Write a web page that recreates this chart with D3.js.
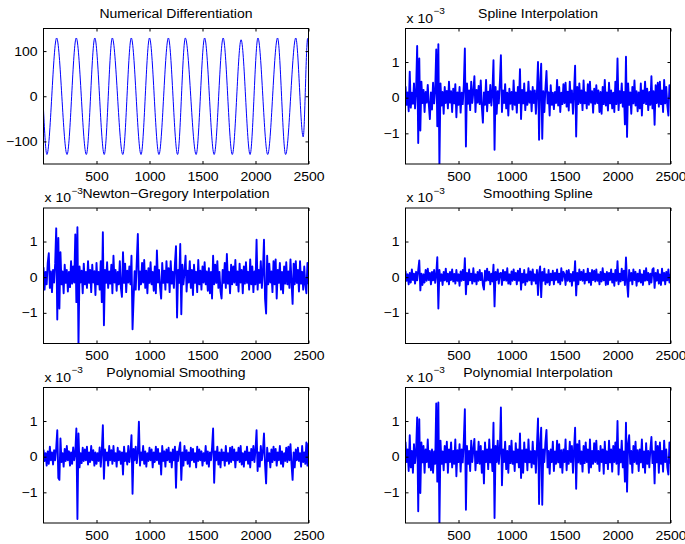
<!DOCTYPE html>
<html><head><meta charset="utf-8">
<script src="https://cdn.jsdelivr.net/npm/d3@7"></script>
<style>
html,body{margin:0;padding:0;background:#fff;}
svg{display:block;font-family:"Liberation Sans",Arial,Helvetica,sans-serif;}
</style></head>
<body><svg id="fig" width="685" height="544"></svg>
<script>
// ---------- data ----------
const titles = ["Numerical Differentiation","Spline Interpolation","Newton\u2212Gregory Interpolation",
                "Smoothing Spline","Polynomial Smoothing","Polynomial Interpolation"];
const xTicks = [500,1000,1500,2000,2500];
const sineTicks = [-100,0,100];
const errTicks = [-1,0,1];          // in units of 1e-3
const errStep = 10;                 // samples between stored error values

// panel 1: extrema of the derivative curve (sample index, value)
const sineX = [0,32,124,222,309,404,484,573,649,748,828,920,1000,1089,1178,1265,1338,1440,1520,1610,1695,1781,1864,1949,2023,2115,2208,2284,2380,2450,2492,2500];
const sineY = [-30,-129,129,-129,129,-129,129,-129,129,-129,129,-129,129,-129,129,-129,129,-129,129,-129,129,-129,125,-129,129,-129,129,-129,129,-90,128,105];

// error curves (x 1e-3), one value every 10 samples
const splineErr = [
0.32,-0.2,0.15,-0.38,0.73,-0.28,0.14,-0.17,0.4,-0.3,
0.18,1.45,-1.27,1.1,-0.92,0.45,-0.15,0.22,-0.4,0.16,
-0.14,0.36,-0.2,-0.6,0.15,-0.33,0.42,-0.16,0.2,1.35,
-0.8,1.5,-1.95,0.4,-0.22,0.16,-0.45,0.3,-0.15,0.19,
-0.3,0.45,-0.14,0.18,-0.4,0.25,-0.16,0.38,-0.55,0.15,
-0.2,0.3,-0.42,0.14,-0.18,0.35,1.38,-1.37,0.4,-0.17,
0.2,-0.35,0.45,-0.15,0.16,0.6,-0.4,0.22,-0.14,0.33,
-0.18,0.48,-0.25,-0.7,0.15,-0.2,0.5,-0.38,0.17,-0.15,
0.36,-0.22,0.15,1.05,-1.46,0.3,-0.45,0.18,-0.16,0.42,
1.19,-0.4,0.2,-0.15,0.38,-0.3,0.14,-0.5,0.25,-0.17,
0.16,-0.33,0.48,-0.2,0.15,-0.42,0.3,-0.15,0.8,-0.6,
0.22,-0.16,0.4,-0.35,0.15,-0.2,0.45,-0.14,0.18,-0.38,
0.3,-0.15,0.2,-0.45,0.16,1.0,-1.18,0.4,0.95,-1.15,
0.18,-0.4,0.25,0.75,-0.16,0.15,-0.5,0.35,-0.2,0.14,
-0.32,0.16,-0.15,0.5,-0.22,0.3,-0.4,0.14,-0.18,0.38,
-0.15,0.42,-0.25,0.17,-0.36,0.45,-0.14,0.2,-0.45,0.16,
0.9,-1.09,0.3,-0.18,0.4,-0.15,0.2,-0.35,0.48,-0.16,
0.15,-0.3,0.38,-0.2,0.45,-0.14,0.18,-0.42,0.25,-0.17,
0.35,-0.15,0.2,-0.4,0.16,-0.45,0.3,-0.18,0.5,-0.22,
0.15,-0.36,0.42,-0.16,0.2,-0.3,0.14,-0.4,0.45,-0.18,
1.1,-0.35,0.18,-0.15,0.4,-0.25,0.16,-0.75,1.15,-1.1,
0.4,-0.2,0.15,-0.45,0.3,-0.16,0.48,-0.22,0.18,-0.38,
0.15,-0.3,0.4,-0.5,0.2,-0.15,0.45,-0.18,0.25,-0.35,
0.16,-0.2,0.6,-0.3,0.18,-0.76,0.35,-0.15,0.42,-0.25,
0.45,-0.18,0.2,-0.4,0.5,-0.16,0.3,-0.22,-0.5,0.35,
0.2];
const newtonErr = [
0.28,-0.35,0.15,-0.2,0.4,0.67,-0.3,0.16,-0.42,0.2,
-0.15,0.38,1.37,-1.19,1.1,-0.88,0.7,-0.2,0.16,-0.45,
0.35,-0.16,0.2,-0.4,0.15,-0.28,0.45,-0.18,0.3,-0.15,
1.2,-0.7,1.4,-1.95,0.3,-0.15,0.18,-0.45,0.38,-0.2,
0.15,-0.3,0.45,-0.16,0.2,-0.42,0.35,-0.15,0.17,-0.5,
0.4,-0.2,0.15,-0.35,0.45,-0.7,1.26,-1.35,0.2,-0.16,
0.42,-0.3,0.16,-0.18,0.35,-0.45,0.6,-0.15,0.2,-0.38,
0.15,-0.2,0.45,-0.3,-0.55,0.7,-0.16,0.38,-0.42,0.18,
-0.15,0.3,-0.2,0.6,-1.46,-0.6,0.17,-0.35,0.45,1.21,
-0.35,0.16,-0.2,0.4,-0.15,0.48,-0.3,0.18,-0.45,0.25,
-0.16,0.42,-0.2,0.15,-0.38,0.3,-0.45,0.75,-0.15,0.2,
-0.3,-0.6,0.4,-0.16,0.18,-0.35,0.45,-0.15,0.25,-0.42,
0.45,-0.18,0.15,-0.3,0.38,0.87,-1.13,0.2,-0.16,0.93,
-1.04,0.35,-0.2,0.15,0.6,-0.4,0.18,-0.15,0.45,-0.3,
0.2,-0.5,0.35,-0.16,0.15,-0.42,0.48,-0.2,0.18,-0.35,
0.3,-0.15,0.42,-0.2,0.16,-0.38,0.25,-0.45,0.15,-0.6,
0.6,-0.2,0.35,-0.16,0.45,-0.3,0.15,-0.4,-0.6,0.2,
-0.16,0.4,-0.3,0.65,-0.18,0.15,-0.45,0.35,-0.2,0.3,
-0.15,0.48,-0.22,0.16,-0.4,0.38,-0.15,0.2,-0.45,0.3,
-0.18,0.42,-0.16,0.15,-0.35,0.5,-0.2,0.3,-0.42,0.16,
-0.2,1.05,-0.35,0.2,-0.16,0.45,-0.3,0.15,1.05,-0.6,
-1.02,0.6,-0.2,0.38,-0.15,0.16,-0.42,0.45,-0.2,0.5,
-0.6,0.2,-0.16,0.4,-0.35,0.15,-0.45,0.3,-0.18,0.42,
-0.2,0.16,-0.3,0.5,-0.15,-0.75,0.38,-0.2,0.45,-0.16,
0.2,-0.4,0.45,-0.18,0.15,-0.35,0.3,-0.2,-0.45,0.4,
-0.2];
const smoothSplineErr = [
0.18,-0.1,0.08,-0.2,0.12,-0.15,0.22,-0.08,0.1,-0.18,
0.15,-0.09,0.2,0.47,-0.37,0.1,-0.22,0.08,-0.15,0.2,
-0.1,0.24,-0.08,0.12,-0.2,0.15,-0.09,0.2,-0.16,0.08,
0.56,-0.88,0.2,-0.1,0.08,-0.22,0.15,-0.09,0.24,-0.12,
0.1,-0.2,0.15,-0.08,0.22,-0.12,0.09,-0.18,0.2,-0.1,
0.08,-0.24,0.16,-0.1,0.2,-0.08,0.53,-0.48,0.12,-0.2,
0.22,-0.09,0.1,-0.18,0.25,-0.12,0.08,-0.2,0.15,-0.1,
0.2,-0.08,0.12,-0.22,-0.35,0.18,-0.1,0.24,-0.09,0.15,
-0.2,0.1,-0.12,0.35,-0.82,0.15,-0.08,0.22,-0.18,0.1,
0.12,-0.22,0.2,-0.09,0.15,-0.1,0.25,-0.18,0.08,-0.2,
0.16,-0.1,0.22,-0.08,0.12,-0.2,0.18,-0.1,0.24,-0.35,
0.1,-0.15,0.2,-0.22,0.08,-0.12,0.25,-0.09,0.16,-0.2,
0.22,-0.1,0.08,-0.18,0.2,-0.5,0.12,0.3,-0.56,0.15,
-0.1,0.24,-0.2,0.08,-0.15,0.2,-0.22,0.1,-0.09,0.18,
-0.2,0.12,-0.08,0.22,-0.15,0.1,-0.2,0.25,-0.1,0.15,
0.08,-0.22,0.18,-0.1,0.2,-0.12,0.09,-0.24,0.15,-0.1,
0.45,-0.51,0.12,-0.2,0.22,-0.08,0.15,-0.1,0.2,-0.18,
0.1,-0.09,0.24,-0.15,0.12,-0.22,0.2,-0.08,0.18,-0.12,
0.22,-0.1,0.08,-0.2,0.15,-0.12,0.25,-0.09,0.1,-0.22,
0.15,-0.2,0.12,-0.08,0.22,-0.15,0.1,-0.24,0.2,-0.1,
0.45,-0.2,0.1,-0.12,0.24,-0.09,0.18,-0.22,0.55,-0.15,
-0.55,0.2,-0.1,0.12,-0.2,0.22,-0.08,0.15,-0.24,0.1,
-0.12,0.2,-0.15,0.08,-0.22,0.18,-0.1,0.25,-0.09,0.12,
-0.2,0.1,-0.15,0.22,0.25,-0.3,0.12,-0.1,0.2,-0.18,
0.08,-0.22,0.24,-0.1,0.12,-0.2,0.15,-0.09,0.22,-0.15,
0.1];
const polySmoothErr = [
0.2,-0.12,0.1,-0.25,0.15,-0.2,0.28,-0.1,0.12,-0.22,
0.18,-0.1,0.25,0.74,-0.6,-0.65,0.51,-0.15,0.1,-0.28,
0.22,-0.12,0.3,-0.1,0.15,-0.25,0.12,-0.2,0.26,-0.1,
0.12,0.79,-1.75,0.65,-0.3,0.1,-0.18,0.25,-0.12,0.2,
-0.1,0.28,-0.22,0.12,-0.15,0.3,-0.1,0.18,-0.25,0.12,
-0.2,0.1,-0.12,0.26,-0.28,0.15,0.88,-0.62,0.2,-0.1,
0.12,-0.25,0.3,-0.1,0.18,-0.2,0.3,-0.12,0.1,-0.28,
0.25,-0.1,0.15,-0.2,0.12,-0.5,0.28,-0.12,0.1,-0.22,
0.3,-0.15,0.1,0.6,-1.04,0.22,-0.1,0.28,-0.18,0.12,
0.98,-0.25,0.12,-0.1,0.3,-0.2,0.15,-0.28,0.1,-0.12,
0.25,-0.1,0.2,-0.3,0.12,-0.15,0.28,-0.1,0.22,-0.2,
0.1,-0.5,0.3,-0.12,0.15,-0.28,0.2,-0.1,0.25,-0.15,
0.12,-0.3,0.2,-0.1,0.28,-0.87,0.15,-0.12,0.22,0.4,
-0.65,0.12,-0.25,0.3,-0.1,0.18,-0.2,0.12,-0.28,0.25,
-0.1,0.22,-0.15,0.1,-0.3,0.28,-0.12,0.2,-0.1,0.15,
-0.25,0.1,-0.12,0.3,-0.2,0.15,-0.28,0.12,-0.1,0.25,
0.79,-0.73,0.15,-0.1,0.28,-0.22,0.12,-0.3,0.2,-0.1,
0.12,-0.25,0.3,-0.12,0.1,-0.2,0.25,-0.15,0.28,-0.1,
0.2,-0.3,0.12,-0.1,0.25,-0.15,0.3,-0.22,0.1,-0.28,
0.15,-0.1,0.28,-0.2,0.12,-0.3,0.22,-0.1,0.3,-0.15,
0.2,0.74,-0.4,0.12,-0.28,0.3,-0.1,0.15,0.65,-0.22,
-0.75,0.25,-0.12,0.1,-0.3,0.2,-0.15,0.28,-0.1,0.22,
-0.25,0.12,-0.1,0.3,-0.2,0.15,-0.28,0.1,-0.12,0.25,
-0.15,0.28,-0.1,0.35,-0.22,-0.65,0.12,-0.3,0.2,-0.1,
0.25,-0.12,0.1,-0.28,0.3,-0.15,0.12,-0.2,0.4,-0.25,
0.38];
const polyInterpErr = [
0.42,-0.15,0.2,-0.4,0.6,-0.3,0.16,-0.45,0.35,-0.18,
0.15,1.1,-1.53,1.05,-1.02,0.4,-0.16,0.3,-0.45,0.2,
-0.15,0.48,-0.3,0.16,-0.38,0.2,-0.45,0.15,-0.2,1.49,
-0.7,1.52,-1.95,0.45,-0.2,0.15,-0.38,0.3,-0.16,0.42,
-0.45,0.2,-0.15,0.4,-0.3,0.16,-0.2,0.48,-0.55,0.18,
-0.15,0.35,-0.42,0.2,-0.16,0.45,1.33,-1.49,0.3,-0.2,
0.16,-0.4,0.45,-0.15,0.2,0.5,-0.38,0.15,-0.18,0.42,
-0.2,0.3,-0.45,0.16,-0.75,0.4,-0.15,0.2,-0.35,0.48,
-0.16,0.2,-0.4,0.95,-1.72,0.3,-0.15,0.45,-0.2,0.16,
1.38,-0.8,0.2,-0.15,0.42,-0.35,0.16,-0.45,0.3,-0.18,
0.45,-0.2,0.15,-0.4,0.38,-0.16,0.2,-0.3,0.65,-0.6,
0.18,-0.45,0.4,-0.15,0.2,-0.38,0.48,-0.16,0.15,-0.3,
0.42,-0.2,0.16,-0.45,0.3,1.07,-1.33,0.35,0.81,-1.35,
0.2,-0.15,0.4,0.75,-0.3,0.16,-0.48,0.2,-0.15,0.42,
-0.4,0.15,-0.2,0.45,-0.16,0.35,-0.3,0.18,-0.45,0.2,
-0.15,0.48,-0.38,0.16,-0.2,0.42,-0.15,0.3,-0.45,0.2,
0.81,-0.9,0.35,-0.16,0.45,-0.2,0.15,-0.42,0.3,-0.18,
0.4,-0.15,0.2,-0.45,0.48,-0.3,0.16,-0.2,0.38,-0.15,
0.45,-0.2,0.16,-0.4,0.3,-0.15,0.2,-0.48,0.42,-0.18,
0.15,-0.35,0.45,-0.16,0.2,-0.42,0.3,-0.15,0.4,-0.2,
1.0,-0.5,0.2,-0.16,0.45,-0.3,0.15,-0.7,0.95,-0.98,
0.35,0.6,-0.2,0.16,-0.45,0.3,-0.15,0.42,-0.2,0.18,
-0.4,0.2,-0.16,0.48,-0.3,0.15,-0.45,0.38,-0.2,0.16,
-0.3,0.2,0.55,-0.18,0.15,-0.75,0.42,-0.16,0.3,-0.45,
0.4,-0.2,0.16,-0.42,0.45,-0.15,0.2,-0.3,-0.5,0.4,
-0.2];

// ---------- layout ----------
const colLeft = [43.5, 405.5], rowTop = [28.5, 208, 387.5];
const PW = 265, PH = 135.5;
const fs = 12.5, stretch = 1.12;

const svg = d3.select("#fig");
svg.append("rect").attr("width",685).attr("height",544).attr("fill","#fff");

const errSeries = [splineErr, newtonErr, smoothSplineErr, polySmoothErr, polyInterpErr];
const fmt = d3.format("d");

function panel(k){
  const col = k % 2, row = Math.floor(k/2);
  const L = colLeft[col], T = rowTop[row];
  const g = svg.append("g").attr("transform",`translate(${L},${T})`);
  const x = d3.scaleLinear().domain([0,2500]).range([0,PW]);
  let y, pts, ticks, curve;
  if(k===0){
    y = d3.scaleLinear().domain([-150,150]).range([PH,0]);
    pts = sineX.map((v,i)=>[v, sineY[i]]);
    ticks = sineTicks; curve = d3.curveMonotoneX;
  } else {
    y = d3.scaleLinear().domain([-1.86,1.94]).range([PH,0]);
    pts = errSeries[k-1].map((v,i)=>[i*errStep, v]);
    ticks = errTicks; curve = d3.curveLinear;
  }
  const cid = "clip"+k;
  g.append("clipPath").attr("id",cid).append("rect").attr("width",PW).attr("height",PH);
  g.append("path").attr("clip-path",`url(#${cid})`)
    .attr("d", d3.line().x(d=>x(d[0])).y(d=>y(d[1])).curve(curve)(pts))
    .attr("fill","none").attr("stroke","#0000ff")
    .attr("stroke-width", k===0 ? 1 : 1.9).attr("stroke-linejoin","round");

  const style = a => { a.select(".domain").remove();
    a.selectAll("line").attr("stroke","#000");
    a.selectAll("text").attr("fill","#000").style("font-size",fs+"px").style("font-family","Liberation Sans, Arial, sans-serif"); };
  g.append("g").attr("transform",`translate(0,${PH})`)
    .call(d3.axisBottom(x).tickValues(xTicks).tickFormat(fmt).tickSize(-3).tickPadding(8)).call(style);
  g.append("g").call(d3.axisTop(x).tickValues(xTicks).tickSize(-3).tickFormat("")).call(style);
  g.append("g").call(d3.axisLeft(y).tickValues(ticks).tickFormat(fmt).tickSize(-3).tickPadding(6)).call(style);
  g.append("g").attr("transform",`translate(${PW},0)`)
    .call(d3.axisRight(y).tickValues(ticks).tickSize(-3).tickFormat("")).call(style);
  g.append("rect").attr("width",PW).attr("height",PH).attr("fill","none").attr("stroke","#000").attr("stroke-width",1);

  g.append("text").attr("x",PW/2).attr("y",-10.5).attr("text-anchor","middle")
    .style("font-size",fs+"px").attr("fill","#000").attr("class","st").text(titles[k]);
  if(k>0){
    const t1 = g.append("text").attr("x",1).attr("y",-5.8).style("font-size",fs+"px").attr("fill","#000").text("x 10");
    const w = t1.node().getComputedTextLength()*stretch;
    t1.attr("textLength",w).attr("lengthAdjust","spacingAndGlyphs");
    g.append("text").attr("x",1+w+0.5).attr("y",-14.3).style("font-size","9px").attr("fill","#000").attr("class","st").text("\u22123");
  }
}
for(let k=0;k<6;k++) panel(k);
// horizontal stretch of text to match the reference's wider rendering
svg.selectAll(".tick text, text.st").each(function(){
  const len = this.getComputedTextLength();
  if(len>0) d3.select(this).attr("textLength",len*stretch).attr("lengthAdjust","spacingAndGlyphs");
});
</script></body></html>
